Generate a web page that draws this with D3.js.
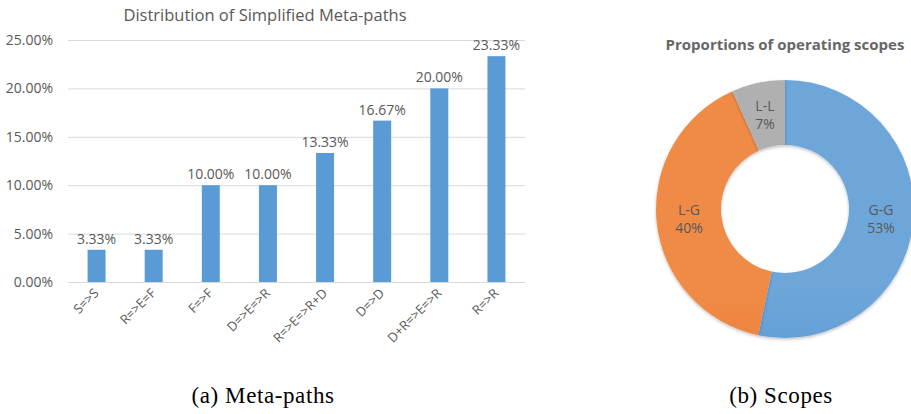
<!DOCTYPE html>
<html>
<head>
<meta charset="utf-8">
<script src="https://cdn.jsdelivr.net/npm/d3@7"></script>
<style>
  body { margin: 0; background: #fff; }
  svg { display: block; }
</style>
</head>
<body>
<svg id="chart" width="911" height="414"></svg>
<script>
// bar chart data (share of each simplified meta-path)
var paths = ["S=>S", "R=>E=F", "F=>F", "D=>E=>R", "R=>E=>R+D", "D=>D", "D+R=>E=>R", "R=>R"];
var pathShare = [3.33, 3.33, 10.00, 10.00, 13.33, 16.67, 20.00, 23.33];
var yTicks = [0, 5, 10, 15, 20, 25];

// donut data (operating scopes)
var scopes = ["G-G", "L-G", "L-L"];
var scopeShare = [53.33, 40.00, 6.67];
var scopeColors = [["#6ea6da", "#3b85c8"], ["#f08b47", "#e2691c"], ["#b0b0b0", "#989898"]];

var svg = d3.select("#chart");
var txt = "#595959";
var font = "'Open Sans', sans-serif";

// ---------- (a) bars ----------
var x = d3.scaleBand().domain(paths).range([68, 525]).paddingInner(0.685).paddingOuter(0.3425);
var y = d3.scaleLinear().domain([0, 25]).range([282, 40]);

var g = svg.append("g");

g.append("text")
    .attr("x", 265).attr("y", 21)
    .attr("text-anchor", "middle")
    .attr("font-family", font).attr("font-size", 16.5)
    .attr("fill", txt)
    .text("Distribution of Simplified Meta-paths");

g.selectAll(".grid")
    .data(yTicks)
    .enter().append("line")
    .attr("x1", 68).attr("x2", 525)
    .attr("y1", function(d){ return y(d) + 0.5; })
    .attr("y2", function(d){ return y(d) + 0.5; })
    .attr("stroke", "#d9d9d9").attr("stroke-width", 1);

g.selectAll(".ytick")
    .data(yTicks)
    .enter().append("text")
    .attr("x", 53)
    .attr("y", function(d){ return y(d); })
    .attr("dy", "0.35em")
    .attr("text-anchor", "end")
    .attr("font-family", font).attr("font-size", 14)
    .attr("fill", txt)
    .text(function(d){ return d.toFixed(2) + "%"; });

g.selectAll(".bar")
    .data(pathShare)
    .enter().append("rect")
    .attr("x", function(d, i){ return x(paths[i]); })
    .attr("y", function(d){ return y(d); })
    .attr("width", x.bandwidth())
    .attr("height", function(d){ return y(0) - y(d); })
    .attr("fill", "#5b9bd5");

g.selectAll(".val")
    .data(pathShare)
    .enter().append("text")
    .attr("x", function(d, i){ return x(paths[i]) + x.bandwidth() / 2; })
    .attr("y", function(d){ return y(d) - 6; })
    .attr("text-anchor", "middle")
    .attr("font-family", font).attr("font-size", 14)
    .attr("fill", txt)
    .text(function(d){ return d.toFixed(2) + "%"; });

g.selectAll(".xlab")
    .data(paths)
    .enter().append("text")
    .attr("transform", function(d){
        return "translate(" + (x(d) + x.bandwidth() / 2 + 3) + ",294) rotate(-45)";
    })
    .attr("text-anchor", "end")
    .attr("font-family", font).attr("font-size", 13)
    .attr("fill", txt)
    .text(function(d){ return d; });

// ---------- (b) donut ----------
var cx = 785, cy = 209, rOut = 129, rIn = 64;
var defs = svg.append("defs");
scopeColors.forEach(function(c, i){
    var lg = defs.append("linearGradient")
        .attr("id", "grad" + i)
        .attr("gradientUnits", "userSpaceOnUse")
        .attr("x1", 0).attr("y1", cy - rOut).attr("x2", 0).attr("y2", cy + rOut);
    lg.append("stop").attr("offset", "0%").attr("stop-color", c[0]);
    lg.append("stop").attr("offset", "100%").attr("stop-color", c[1]);
});
var shadow = defs.append("filter").attr("id", "shadow")
    .attr("x", "-10%").attr("y", "-10%").attr("width", "120%").attr("height", "120%");
shadow.append("feDropShadow").attr("dx", 0).attr("dy", 1.5).attr("stdDeviation", 1.5)
    .attr("flood-color", "#000").attr("flood-opacity", 0.25);

svg.append("text")
    .attr("x", cx).attr("y", 50)
    .attr("text-anchor", "middle")
    .attr("font-family", font).attr("font-size", 15).attr("font-weight", "bold")
    .attr("fill", "#666")
    .text("Proportions of operating scopes");

var pie = d3.pie().sort(null).value(function(d){ return d; });
var arc = d3.arc().innerRadius(rIn).outerRadius(rOut);
var arcs = pie(scopeShare);

// gradients use page coords, so each path is shifted into place on its own
var dg = svg.append("g");

dg.selectAll("path")
    .data(arcs)
    .enter().append("path")
    .attr("d", arc)
    .attr("transform", "translate(" + cx + "," + cy + ")")
    .attr("fill", function(d, i){ return "url(#grad" + i + ")"; })
    .attr("filter", "url(#shadow)");

var lab = dg.selectAll(".dlab")
    .data(arcs)
    .enter().append("text")
    .attr("transform", function(d){
        var c = arc.centroid(d);
        return "translate(" + (c[0] + cx) + "," + (c[1] + cy) + ")";
    })
    .attr("text-anchor", "middle")
    .attr("font-family", font).attr("font-size", 14)
    .attr("fill", txt);
lab.append("tspan").attr("x", 0).attr("y", -4).text(function(d, i){ return scopes[i]; });
lab.append("tspan").attr("x", 0).attr("y", 14).text(function(d){ return Math.round(d.data) + "%"; });

// ---------- captions ----------
svg.append("text")
    .attr("x", 263).attr("y", 403)
    .attr("text-anchor", "middle")
    .attr("font-family", "'Liberation Serif', serif").attr("font-size", 23)
    .attr("letter-spacing", 0.6)
    .attr("fill", "#000")
    .text("(a) Meta-paths");

svg.append("text")
    .attr("x", 781).attr("y", 403)
    .attr("text-anchor", "middle")
    .attr("font-family", "'Liberation Serif', serif").attr("font-size", 23)
    .attr("letter-spacing", 0.6)
    .attr("fill", "#000")
    .text("(b) Scopes");
</script>
</body>
</html>
